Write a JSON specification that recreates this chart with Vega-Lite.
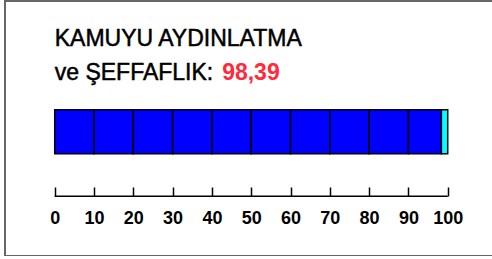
{
  "$schema": "https://vega.github.io/schema/vega-lite/v6.json",
  "width": 490,
  "height": 255,
  "autosize": "none",
  "padding": {"left": 5, "top": 1, "right": 0, "bottom": 0},
  "background": "white",
  "config": {
    "view": {"stroke": "#666666", "strokeWidth": 2},
    "locale": {"number": {"decimal": ",", "thousands": ".", "grouping": [3], "currency": ["", " TL"]}}
  },
  "datasets": {
    "segments": [
      {"from": 0, "to": 10, "kind": "puan"},
      {"from": 10, "to": 20, "kind": "puan"},
      {"from": 20, "to": 30, "kind": "puan"},
      {"from": 30, "to": 40, "kind": "puan"},
      {"from": 40, "to": 50, "kind": "puan"},
      {"from": 50, "to": 60, "kind": "puan"},
      {"from": 60, "to": 70, "kind": "puan"},
      {"from": 70, "to": 80, "kind": "puan"},
      {"from": 80, "to": 90, "kind": "puan"},
      {"from": 90, "to": 98.39, "kind": "puan"},
      {"from": 98.39, "to": 100, "kind": "kalan"}
    ],
    "one": [{"score": 98.39}]
  },
  "layer": [
    {
      "data": {"name": "segments"},
      "mark": {"type": "bar", "stroke": "#000000", "strokeWidth": 1.5},
      "encoding": {
        "x": {
          "field": "from", "type": "quantitative",
          "scale": {"domain": [-12.65, 112.03], "nice": false, "zero": false},
          "axis": {
            "values": [0, 10, 20, 30, 40, 50, 60, 70, 80, 90, 100],
            "title": null, "grid": false, "domain": false,
            "offset": -60, "tickSize": -9, "tickColor": "#000000", "tickWidth": 1.5,
            "labelFont": "Liberation Sans", "labelFontWeight": "bold", "labelFontSize": 18,
            "labelColor": "#000000", "labelPadding": 22, "labelBaseline": "top"
          }
        },
        "x2": {"field": "to"},
        "y": {"datum": 0, "type": "quantitative", "scale": {"domain": [-2.325, 3.47], "nice": false, "zero": false}, "axis": null},
        "y2": {"datum": 1},
        "color": {"field": "kind", "type": "nominal", "scale": {"domain": ["puan", "kalan"], "range": ["#0000ff", "#00ffff"]}, "legend": null}
      }
    },
    {
      "data": {"name": "one"},
      "mark": {"type": "rule", "color": "#000000", "strokeWidth": 1.5},
      "encoding": {
        "x": {"datum": 0, "type": "quantitative"},
        "x2": {"datum": 100},
        "y": {"datum": -0.966, "type": "quantitative"}
      }
    },
    {
      "data": {"name": "one"},
      "mark": {"type": "text", "align": "left", "baseline": "alphabetic", "font": "Liberation Sans", "fontSize": 23, "color": "#000000", "stroke": "#000000", "strokeWidth": 0.5},
      "encoding": {
        "x": {"datum": 0, "type": "quantitative"},
        "y": {"datum": 2.439, "type": "quantitative"},
        "text": {"value": "KAMUYU AYDINLATMA"}
      }
    },
    {
      "data": {"name": "one"},
      "mark": {"type": "text", "align": "left", "baseline": "alphabetic", "font": "Liberation Sans", "fontSize": 23, "color": "#000000", "stroke": "#000000", "strokeWidth": 0.5},
      "encoding": {
        "x": {"datum": 0, "type": "quantitative"},
        "y": {"datum": 1.682, "type": "quantitative"},
        "text": {"value": "ve ŞEFFAFLIK:"}
      }
    },
    {
      "data": {"name": "one"},
      "mark": {"type": "text", "align": "left", "baseline": "alphabetic", "font": "Liberation Sans", "fontSize": 23, "fontWeight": "bold", "color": "#ff2a3c"},
      "encoding": {
        "x": {"datum": 42.6, "type": "quantitative"},
        "y": {"datum": 1.682, "type": "quantitative"},
        "text": {"field": "score", "type": "quantitative", "format": ".2f"}
      }
    }
  ]
}
